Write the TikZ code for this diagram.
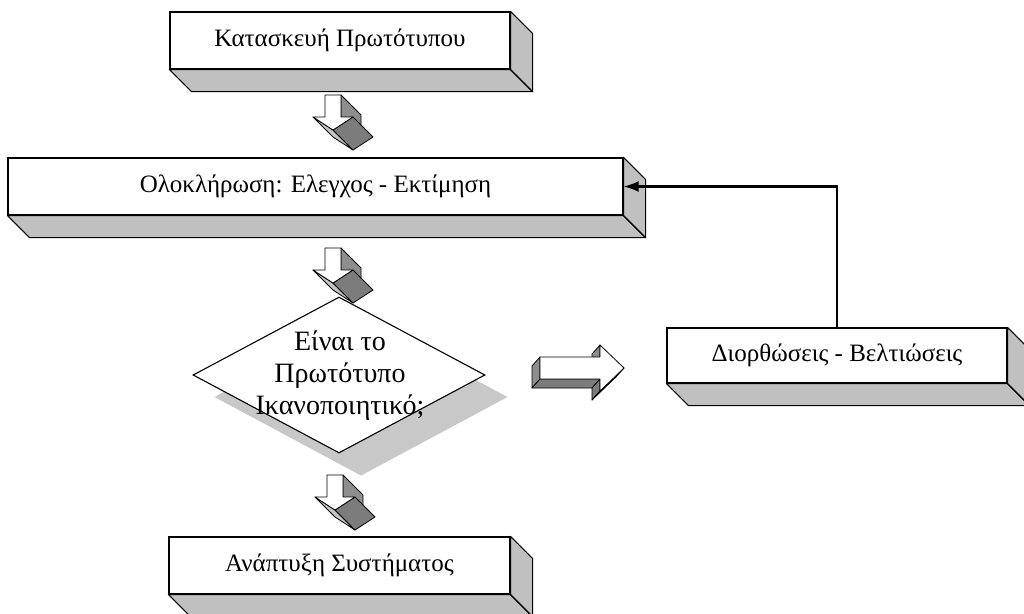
\documentclass[tikz,border=0pt]{standalone}
\usepackage{fontspec}
\setmainfont{Liberation Serif}
\usetikzlibrary{shapes.geometric,arrows.meta,backgrounds}

\definecolor{boxgray}{HTML}{C0C0C0}
\definecolor{shadowgray}{HTML}{C8C8C8}
\definecolor{stemgray}{HTML}{8E8E8E}
\definecolor{slopegray}{HTML}{7C7C7C}
\definecolor{lightslope}{HTML}{C4C4C4}

\tikzset{
  box/.style={draw=black, line width=1.2pt, fill=white, inner sep=0pt,
    font=\fontsize{25}{29}\selectfont},
  face/.style={draw=black, line width=1.1pt, line join=round, fill=boxgray},
  aface/.style={draw=black, line width=0.8pt, line join=round},
  conn/.style={draw=black, line width=2.2pt, -{Latex[length=15pt,width=11pt]}},
  % three-dimensional block arrow pointing down, origin = top left of the stem
  pics/downarr/.style={code={
    \filldraw[aface, fill=stemgray] (16,0) -- ++(20,20) -- ++(0,22) -- (16,22) -- cycle;
    \filldraw[aface, fill=lightslope] (-12,22) -- (8,35) -- ++(20,20) -- ++(-20,-13) -- cycle;
    \filldraw[aface, fill=slopegray] (8,35) -- (28,22) -- ++(20,20) -- (28,55) -- cycle;
    \filldraw[aface, fill=white] (0,0) -- (16,0) -- (16,22) -- (28,22) -- (8,35)
      -- (-12,22) -- (0,22) -- cycle;
  }},
  % three-dimensional block arrow pointing right, origin = top left of the stem
  pics/rightarr/.style={code={
    \filldraw[aface, fill=stemgray] (0,0) -- (0,22) -- (-8,31) -- (-8,9) -- cycle;
    \filldraw[aface, fill=slopegray] (0,22) -- (60,22) -- (52,31) -- (-8,31) -- cycle;
    \filldraw[aface, fill=slopegray] (60,22) -- (60,34) -- (52,43) -- (52,31) -- cycle;
    \filldraw[aface, fill=lightslope] (60,34) -- (84,11) -- (76,20) -- (52,43) -- cycle;
    \filldraw[aface, fill=stemgray] (60,-12) -- (60,0) -- (52,9) -- (52,-3) -- cycle;
    \filldraw[aface, fill=white] (0,0) -- (60,0) -- (60,-12) -- (84,11) -- (60,34)
      -- (60,22) -- (0,22) -- cycle;
  }}
}

\begin{document}
\begin{tikzpicture}[x=1pt,y=-1pt]
\useasboundingbox (0,0) rectangle (1024,613);
\clip (0,0) rectangle (1024,613);

% process boxes
\node[box, minimum width=340pt, minimum height=57pt] (b1) at (340,40.5) {Κατασκευή Πρωτότυπου};
\node[box, minimum width=615pt, minimum height=57pt] (b2) at (315.5,186.5) {Ολοκλήρωση: Ελεγχος - Εκτίμηση};
\node[box, minimum width=340pt, minimum height=55pt] (b3) at (837,355.5) {Διορθώσεις - Βελτιώσεις};
\node[box, minimum width=341pt, minimum height=57pt] (b4) at (339.5,565.5) {Ανάπτυξη Συστήματος};

% extruded bottom and right faces of the boxes
\foreach \b in {b1,b2,b3,b4}{
  \filldraw[face] (\b.south west) -- (\b.south east) -- ++(22,22)
    -- ([shift={(22,22)}]\b.south west) -- cycle;
  \filldraw[face] (\b.north east) -- ++(22,22)
    -- ([shift={(22,22)}]\b.south east) -- (\b.south east) -- cycle;
}

% decision
\node[draw=black, line width=1.1pt, fill=white, diamond, inner sep=0pt,
      minimum width=292pt, minimum height=156pt] (d) at (339,375) {};
\begin{scope}[on background layer]
  \fill[shadowgray] ([shift={(22,22)}]d.north) -- ([shift={(22,22)}]d.east)
    -- ([shift={(22,22)}]d.south) -- ([shift={(22,22)}]d.west) -- cycle;
\end{scope}
\node[align=center, font=\fontsize{28}{32}\selectfont] (dq) at (340,376)
  {Είναι το\\Πρωτότυπο\\Ικανοποιητικό;};

% block arrows
\pic at (325,95) {downarr};
\pic at (325,248) {downarr};
\pic at (327,475) {downarr};
\pic at (540,357) {rightarr};

% feedback connector
\draw[conn] (b3.north) |- (b2.east);
\end{tikzpicture}
\end{document}
